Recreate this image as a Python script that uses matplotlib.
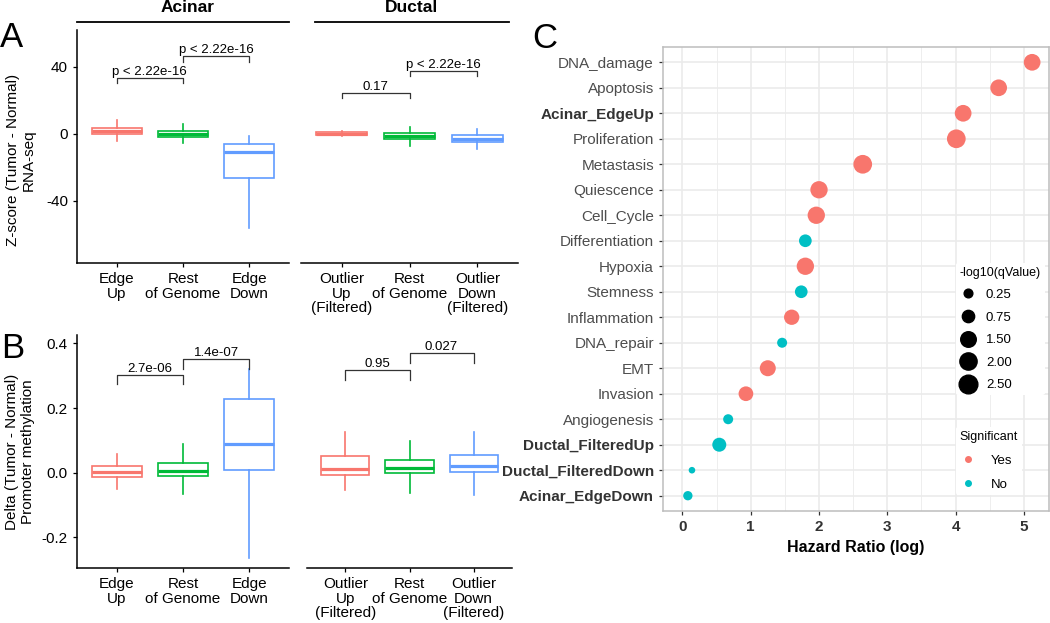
import numpy as np
import matplotlib
matplotlib.use('Agg')
import matplotlib.pyplot as plt
from matplotlib.lines import Line2D
from matplotlib.ticker import FormatStrFormatter

plt.rcParams['font.family'] = ['Liberation Sans', 'DejaVu Sans']
plt.rcParams['axes.unicode_minus'] = False

# ---------------- datos ----------------
box_colors = ['#F8766D', '#00BA38', '#619CFF']

acinar_labels = ['Edge\nUp', 'Rest\nof Genome', 'Edge\nDown']
ductal_labels = ['Outlier\nUp\n(Filtered)', 'Rest\nof Genome', 'Outlier\nDown\n(Filtered)']

# A: Z-score RNA-seq (bigote inf, q1, mediana, q3, bigote sup)
a_acinar_lo = [-4.5, -5.6, -56.3]
a_acinar_q1 = [0.2, -1.6, -26.5]
a_acinar_med = [1.8, 0.0, -10.9]
a_acinar_q3 = [3.8, 1.8, -5.8]
a_acinar_hi = [8.4, 5.8, -1.2]

a_ductal_lo = [-1.4, -7.0, -9.0]
a_ductal_q1 = [-0.8, -2.8, -4.8]
a_ductal_med = [0.1, -1.2, -2.8]
a_ductal_q3 = [1.0, 0.6, -0.8]
a_ductal_hi = [1.8, 4.4, 2.8]

# B: metilacion del promotor
b_acinar_lo = [-0.052, -0.067, -0.264]
b_acinar_q1 = [-0.012, -0.009, 0.007]
b_acinar_med = [0.001, 0.005, 0.090]
b_acinar_q3 = [0.020, 0.031, 0.228]
b_acinar_hi = [0.059, 0.090, 0.320]

b_ductal_lo = [-0.055, -0.062, -0.070]
b_ductal_q1 = [-0.006, -0.001, 0.003]
b_ductal_med = [0.012, 0.014, 0.020]
b_ductal_q3 = [0.053, 0.039, 0.055]
b_ductal_hi = [0.126, 0.098, 0.126]

# comparaciones (grupo1, grupo2, altura, punta, etiqueta)
a_acinar_pv = [(1, 2, 33.4, 30.3, 'p < 2.22e-16'), (2, 3, 46.2, 43.2, 'p < 2.22e-16')]
a_ductal_pv = [(1, 2, 24.3, 21.3, '0.17'), (2, 3, 37.4, 34.5, 'p < 2.22e-16')]
b_acinar_pv = [(1, 2, 0.301, 0.274, '2.7e-06'), (2, 3, 0.352, 0.322, '1.4e-07')]
b_ductal_pv = [(1, 2, 0.317, 0.286, '0.95'), (2, 3, 0.369, 0.340, '0.027')]

# C: hazard ratio (de arriba a abajo)
signatures = ['DNA_damage', 'Apoptosis', 'Acinar_EdgeUp', 'Proliferation', 'Metastasis',
              'Quiescence', 'Cell_Cycle', 'Differentiation', 'Hypoxia', 'Stemness',
              'Inflammation', 'DNA_repair', 'EMT', 'Invasion', 'Angiogenesis',
              'Ductal_FilteredUp', 'Ductal_FilteredDown', 'Acinar_EdgeDown']
hazard = [5.12, 4.63, 4.11, 4.01, 2.64, 2.00, 1.96, 1.80, 1.80, 1.74,
          1.60, 1.46, 1.25, 0.93, 0.67, 0.54, 0.14, 0.08]
neglogq = [1.83, 1.83, 1.83, 2.49, 2.49, 2.02, 2.02, 0.82, 2.02, 0.82,
           1.43, 0.39, 1.62, 1.27, 0.39, 1.10, 0.12, 0.31]
significant = ['Yes', 'Yes', 'Yes', 'Yes', 'Yes', 'Yes', 'Yes', 'No', 'Yes', 'No',
               'Yes', 'No', 'Yes', 'Yes', 'No', 'No', 'No', 'No']
bold_sigs = ['Acinar_EdgeUp', 'Ductal_FilteredUp', 'Ductal_FilteredDown', 'Acinar_EdgeDown']
size_breaks = [0.25, 0.75, 1.50, 2.00, 2.50]
sig_colors = {'Yes': '#F8766D', 'No': '#00BFC4'}

W, H = 1050, 623
fig = plt.figure(figsize=(W / 100, H / 100), dpi=100)


def px_axes(x0, y0, x1, y1):
    return fig.add_axes([x0 / W, 1 - y1 / H, (x1 - x0) / W, (y1 - y0) / H])


def boxes(ax, lo, q1, med, q3, hi, labels, pvals, ylim, show_y):
    stats = []
    for i in range(len(lo)):
        stats.append(dict(whislo=lo[i], q1=q1[i], med=med[i], q3=q3[i], whishi=hi[i], fliers=[]))
    bp = ax.bxp(stats, positions=[1, 2, 3], widths=0.75, showcaps=False, patch_artist=True,
                boxprops=dict(linewidth=1.2), whiskerprops=dict(linewidth=1.2),
                medianprops=dict(linewidth=2.3))
    for i, c in enumerate(box_colors):
        bp['boxes'][i].set_facecolor('white')
        bp['boxes'][i].set_edgecolor(c)
        bp['medians'][i].set_color(c)
        bp['whiskers'][2 * i].set_color(c)
        bp['whiskers'][2 * i + 1].set_color(c)
    for g1, g2, y, tip, lab in pvals:
        ax.plot([g1, g1, g2, g2], [tip, y, y, tip], color='#333333', lw=0.9)
        ax.text((g1 + g2) / 2, y, lab, ha='center', va='bottom', fontsize=9.5)
    ax.set_xlim(0.4, 3.6)
    ax.set_ylim(*ylim)
    ax.set_xticks([1, 2, 3])
    ax.set_xticklabels(labels, fontsize=11, linespacing=1.05)
    for s in ['top', 'right']:
        ax.spines[s].set_visible(False)
    ax.spines['bottom'].set_linewidth(1.1)
    ax.spines['left'].set_linewidth(1.1)
    ax.tick_params(length=3, width=0.9, labelsize=11, colors='black')
    if not show_y:
        ax.spines['left'].set_visible(False)
        ax.tick_params(axis='y', left=False, labelleft=False)


# Panel A
axA1 = px_axes(77, 30, 289, 263)
boxes(axA1, a_acinar_lo, a_acinar_q1, a_acinar_med, a_acinar_q3, a_acinar_hi,
      acinar_labels, a_acinar_pv, (-77, 62), True)
axA1.set_yticks([-40, 0, 40])
axA2 = px_axes(301, 30, 518, 263)
boxes(axA2, a_ductal_lo, a_ductal_q1, a_ductal_med, a_ductal_q3, a_ductal_hi,
      ductal_labels, a_ductal_pv, (-77, 62), False)

# Panel B
axB1 = px_axes(77, 335, 289, 568)
boxes(axB1, b_acinar_lo, b_acinar_q1, b_acinar_med, b_acinar_q3, b_acinar_hi,
      acinar_labels, b_acinar_pv, (-0.295, 0.426), True)
axB1.set_yticks([-0.2, 0.0, 0.2, 0.4])
axB1.yaxis.set_major_formatter(FormatStrFormatter('%.1f'))
axB2 = px_axes(307, 335, 512, 568)
boxes(axB2, b_ductal_lo, b_ductal_q1, b_ductal_med, b_ductal_q3, b_ductal_hi,
      ductal_labels, b_ductal_pv, (-0.295, 0.426), False)

# titulos de grupo
for name, xc, xa, xb in [('Acinar', 188, 77, 289), ('Ductal', 412, 315, 509)]:
    fig.text(xc / W, 1 - 8 / H, name, ha='center', va='center', fontsize=12.5, fontweight='bold')
    fig.add_artist(Line2D([xa / W, xb / W], [1 - 22 / H, 1 - 22 / H], color='black', lw=1.3))

fig.text(21 / W, 1 - 160 / H, 'Z-score (Tumor - Normal)\nRNA-seq', rotation=90,
         ha='center', va='center', fontsize=11, multialignment='center')
fig.text(20 / W, 1 - 452 / H, 'Delta (Tumor - Normal)\nPromoter methylation', rotation=90,
         ha='center', va='center', fontsize=11, multialignment='center')

# Panel C
axC = px_axes(663, 47, 1049, 511)
cats = signatures[::-1]
xs = hazard[::-1]
qv = np.array(neglogq[::-1])
sig = significant[::-1]


def size_px(v):
    v = np.asarray(v, dtype=float)
    return 5.37 + 13.9 * np.sqrt(np.clip((v - 0.1) / 2.6, 0, None))


axC.scatter(xs, cats, s=(size_px(qv) * 0.72) ** 2,
            c=[sig_colors[s] for s in sig], linewidths=0, zorder=3)
axC.set_xlim(-0.284, 5.367)
axC.set_ylim(-0.6, len(cats) - 0.4)
axC.set_xticks([0, 1, 2, 3, 4, 5])
axC.set_xticks([0.5, 1.5, 2.5, 3.5, 4.5], minor=True)
axC.grid(which='major', color='#EBEBEB', lw=1.2)
axC.grid(which='minor', axis='x', color='#EBEBEB', lw=0.6)
axC.set_axisbelow(True)
for s in axC.spines.values():
    s.set_color('#BDBDBD')
    s.set_linewidth(1.1)
axC.tick_params(which='minor', length=0)
axC.tick_params(which='major', length=3, width=0.9, color='#333333')
axC.tick_params(axis='y', labelsize=11, labelcolor='#4D4D4D')
axC.tick_params(axis='x', labelsize=11, labelcolor='#333333')
for t in axC.get_xticklabels():
    t.set_fontweight('bold')
for t in axC.get_yticklabels():
    if t.get_text() in bold_sigs:
        t.set_fontweight('bold')
        t.set_color('#333333')
axC.set_xlabel('Hazard Ratio (log)', fontsize=11.5, fontweight='bold', labelpad=4)

h_size = [Line2D([], [], marker='o', ls='', color='black', markersize=size_px(v) * 0.72)
          for v in size_breaks]
leg1 = axC.legend(h_size, ['%.2f' % v for v in size_breaks], title='-log10(qValue)',
                  loc='upper left', bbox_to_anchor=(949 / W, 1 - 256 / H),
                  bbox_transform=fig.transFigure, frameon=True, facecolor='white',
                  edgecolor='none', framealpha=1, fontsize=9.5, title_fontsize=9,
                  labelspacing=0.78, handlelength=1.3, handletextpad=0.7,
                  borderpad=0.3, alignment='left')
axC.add_artist(leg1)
h_sig = [Line2D([], [], marker='o', ls='', color=sig_colors[k], markersize=4)
         for k in ['Yes', 'No']]
axC.legend(h_sig, ['Yes', 'No'], title='Significant', loc='upper left',
           bbox_to_anchor=(949 / W, 1 - 420 / H), bbox_transform=fig.transFigure,
           frameon=True, facecolor='white', edgecolor='none', framealpha=1,
           fontsize=9.5, title_fontsize=9, labelspacing=0.9, handlelength=1.3,
           handletextpad=1.1, borderpad=0.3, alignment='left')

# letras de panel
fig.text(0 / W, 1 - 47 / H, 'A', fontsize=25, va='baseline', ha='left')
fig.text(1 / W, 1 - 358 / H, 'B', fontsize=25, va='baseline', ha='left')
fig.text(532 / W, 1 - 48 / H, 'C', fontsize=25, va='baseline', ha='left')

fig.savefig('out.png', dpi=100)
